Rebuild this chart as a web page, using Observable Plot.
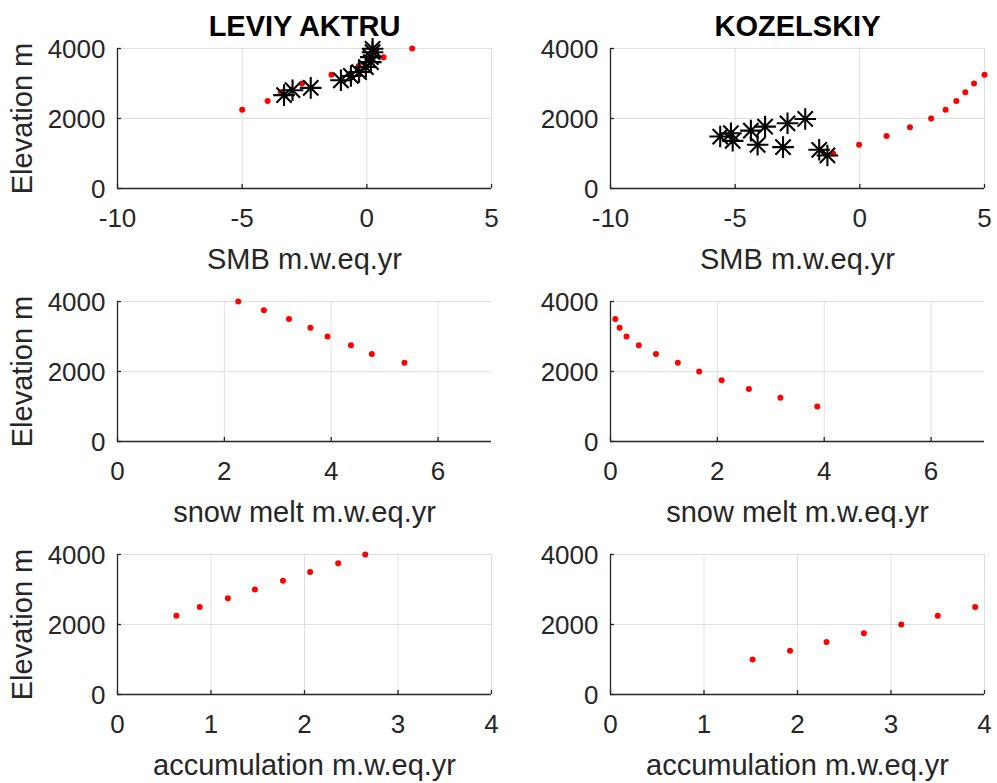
<!DOCTYPE html>
<html>
<head>
<meta charset="utf-8">
<script src="https://cdn.jsdelivr.net/npm/d3@7"></script>
<script src="https://cdn.jsdelivr.net/npm/@observablehq/plot@0.6"></script>
<style>
  html, body { margin: 0; padding: 0; background: #fff; }
  #wrap { position: relative; width: 997px; height: 783px; background: #fff; overflow: hidden; }
  #wrap > div { position: absolute; }
</style>
</head>
<body>
<div id="wrap">
  <div id="p11" style="left:0px; top:0px;"></div>
  <div id="p12" style="left:493px; top:0px;"></div>
  <div id="p21" style="left:0px; top:283px;"></div>
  <div id="p22" style="left:493px; top:283px;"></div>
  <div id="p31" style="left:0px; top:536px;"></div>
  <div id="p32" style="left:493px; top:536px;"></div>
</div>
<script>
// ---------- Data ----------
const titles = ["LEVIY AKTRU", "KOZELSKIY"];
const xLabels = ["SMB m.w.eq.yr", "snow melt m.w.eq.yr", "accumulation m.w.eq.yr"];
const yLabel = "Elevation m";
const yTicks = [0, 2000, 4000];
const smbTicks = [-10, -5, 0, 5];
const meltTicks = [0, 2, 4, 6];
const accTicks = [0, 1, 2, 3, 4];

// Leviy Aktru (model, red dots)
const leviyElev = [2250, 2500, 2750, 3000, 3250, 3500, 3750, 4000];
const leviySMB  = [-5.0, -3.98, -3.45, -2.6, -1.42, -0.33, 0.67, 1.82];
const leviyMelt = [5.37, 4.76, 4.37, 3.93, 3.61, 3.21, 2.74, 2.26];
const leviyAcc  = [0.63, 0.88, 1.18, 1.47, 1.77, 2.06, 2.36, 2.65];
// Leviy Aktru (observed SMB, asterisks)
const leviyObsSMB  = [-3.32, -2.98, -2.25, -1.04, -0.64, -0.31, -0.04, 0.16, 0.16, 0.23, 0.23];
const leviyObsElev = [2667, 2809, 2874, 3092, 3215, 3328, 3470, 3612, 3754, 3895, 3991];

// Kozelskiy (model, red dots)
const kozSMBElev = [1000, 1250, 1500, 1750, 2000, 2250, 2500, 2750, 3000, 3250];
const kozSMB     = [-1.07, -0.03, 1.07, 2.01, 2.86, 3.44, 3.87, 4.23, 4.58, 5.0];
const kozMeltElev = [1000, 1250, 1500, 1750, 2000, 2250, 2500, 2750, 3000, 3250, 3500];
const kozMelt     = [3.87, 3.18, 2.59, 2.08, 1.66, 1.26, 0.85, 0.53, 0.30, 0.17, 0.09];
const kozAccElev = [1000, 1250, 1500, 1750, 2000, 2250, 2500];
const kozAcc     = [1.52, 1.92, 2.31, 2.71, 3.11, 3.50, 3.90];
// Kozelskiy (observed SMB, asterisks)
const kozObsSMB  = [-5.6, -5.17, -5.1, -4.37, -4.1, -3.8, -3.08, -2.9, -2.19, -1.63, -1.3];
const kozObsElev = [1484, 1579, 1362, 1654, 1248, 1768, 1182, 1863, 1986, 1106, 945];

// ---------- Drawing ----------
const FONT = "'Liberation Sans', Arial, Helvetica, sans-serif";
const GRID = "#dfdfdf";
const AX = "#262626";
const FW = 374, FH = 140;

const pts = (xs, ys) => xs.map((x, i) => ({x, y: ys[i]}));

function starMarks(data) {
  return [
    Plot.dot(data, {x: "x", y: "y", symbol: "plus", r: 7, stroke: "#000", strokeWidth: 2.1}),
    Plot.dot(data, {x: "x", y: "y", symbol: "times", r: 7, stroke: "#000", strokeWidth: 2.1})
  ];
}

function panel(o) {
  const xd = [o.ticks[0], o.ticks[o.ticks.length - 1] + (o.extra || 0)];
  const marks = [
    Plot.ruleX(o.ticks, {x: d => d, stroke: GRID, strokeWidth: 1}),
    Plot.ruleY(yTicks, {y: d => d, stroke: GRID, strokeWidth: 1}),
    Plot.ruleY([0], {y: d => d, stroke: AX, strokeWidth: 1.3}),
    Plot.ruleX([xd[0]], {x: d => d, stroke: AX, strokeWidth: 1.3}),
    Plot.tickX(o.ticks, {x: d => d, stroke: AX, strokeWidth: 1.3, insetTop: FH - 4}),
    Plot.tickY(yTicks, {y: d => d, stroke: AX, strokeWidth: 1.3, insetRight: FW - 4}),
    Plot.text(o.ticks, {x: d => d, text: d => String(d), frameAnchor: "bottom", lineAnchor: "middle", dy: 30, fill: AX, fontSize: 26}),
    Plot.text(yTicks, {y: d => d, text: d => String(d), frameAnchor: "left", lineAnchor: "middle", dx: -12, dy: 1, textAnchor: "end", fill: AX, fontSize: 26}),
    Plot.text([o.xLabel], {text: d => d, frameAnchor: "bottom", lineAnchor: "middle", dy: 71, fill: AX, fontSize: 29})
  ];
  if (o.yLabel) marks.push(Plot.text([o.yLabel], {text: d => d, frameAnchor: "left", textAnchor: "middle", lineAnchor: "middle", dx: -95, rotate: -90, fill: AX, fontSize: 29}));
  if (o.title) marks.push(Plot.text([o.title], {text: d => d, frameAnchor: "top", textAnchor: "middle", lineAnchor: "middle", dy: -22, fill: "#000", fontSize: 29, fontWeight: "bold"}));
  marks.push(Plot.dot(o.dots, {x: "x", y: "y", r: 3, fill: "#f00", stroke: "none"}));
  if (o.stars) marks.push(...starMarks(o.stars));
  return Plot.plot({
    width: 497,
    height: o.mt + FH + o.mb,
    marginLeft: 117,
    marginRight: 6,
    marginTop: o.mt,
    marginBottom: o.mb,
    x: {domain: xd, axis: null},
    y: {domain: [0, 4000], axis: null},
    style: {fontFamily: FONT, fontSize: "26px", background: "transparent", color: AX, overflow: "visible"},
    marks
  });
}

const rows = [
  {mt: 48, mb: 95},
  {mt: 18, mb: 95},
  {mt: 18, mb: 93}
];

document.getElementById("p11").appendChild(panel({...rows[0], ticks: smbTicks, xLabel: xLabels[0], yLabel, title: titles[0],
  dots: pts(leviySMB, leviyElev), stars: pts(leviyObsSMB, leviyObsElev)}));
document.getElementById("p12").appendChild(panel({...rows[0], ticks: smbTicks, xLabel: xLabels[0], title: titles[1],
  dots: pts(kozSMB, kozSMBElev), stars: pts(kozObsSMB, kozObsElev)}));
document.getElementById("p21").appendChild(panel({...rows[1], ticks: meltTicks, extra: 1, xLabel: xLabels[1], yLabel,
  dots: pts(leviyMelt, leviyElev)}));
document.getElementById("p22").appendChild(panel({...rows[1], ticks: meltTicks, extra: 1, xLabel: xLabels[1],
  dots: pts(kozMelt, kozMeltElev)}));
document.getElementById("p31").appendChild(panel({...rows[2], ticks: accTicks, xLabel: xLabels[2], yLabel,
  dots: pts(leviyAcc, leviyElev)}));
document.getElementById("p32").appendChild(panel({...rows[2], ticks: accTicks, xLabel: xLabels[2],
  dots: pts(kozAcc, kozAccElev)}));
</script>
</body>
</html>
